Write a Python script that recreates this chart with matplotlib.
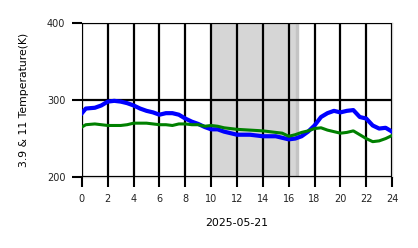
import matplotlib
matplotlib.use('Agg')
import matplotlib.pyplot as plt

# Horas del día (UTC) y temperaturas de brillo
horas = [0, 0.3, 1, 1.5, 2, 2.5, 3, 3.5, 4, 4.5, 5, 5.5, 6, 6.5, 7, 7.5, 8, 8.5,
         9, 9.5, 10, 10.5, 11, 11.5, 12, 13, 14, 15, 15.5, 16, 16.5, 17, 17.5,
         18, 18.5, 19, 19.5, 20, 20.5, 21, 21.5, 22, 22.5, 23, 23.5, 24]
t_39 = [283, 289, 290, 293, 298, 299, 298, 296, 293, 289, 286, 284, 281, 283,
        283, 281, 276, 272, 269, 265, 262, 262, 259, 257, 255, 255, 253, 253,
        251, 249, 250, 253, 259, 267, 278, 283, 286, 284, 286, 287, 278, 276,
        267, 263, 264, 259]
t_11 = [265, 268, 269, 268, 267, 267, 267, 268, 270, 270, 270, 269, 268, 268,
        267, 269, 269, 268, 268, 266, 267, 266, 264, 263, 262, 261, 260, 258,
        257, 253, 255, 258, 260, 263, 264, 261, 259, 257, 258, 260, 255, 250,
        246, 247, 250, 254]

# Intervalo sombreado
sombra_ini, sombra_fin = 10, 16.6

fig = plt.figure(figsize=(4.18, 2.48), dpi=100)
ax = fig.add_axes([0.196, 0.286, 0.742, 0.621])

ax.axvspan(sombra_ini, sombra_fin, color='#d6d6d6', zorder=0)
ax.axvspan(sombra_fin, sombra_fin + 0.15, color='#c4c4c4', zorder=0)

ax.plot(horas, t_39, color='blue', lw=3, zorder=3)
ax.plot(horas, t_11, color='green', lw=2.2, zorder=3)

ax.set_xlim(0, 24)
ax.set_ylim(200, 400)
ax.set_xticks(range(0, 25, 2))
ax.set_yticks([200, 300, 400])
ax.grid(True, color='black', lw=1.6)
ax.set_axisbelow(False)
for s in ax.spines.values():
    s.set_color('#cccccc')
    s.set_linewidth(1)
ax.tick_params(length=7, width=1.5, color='black', labelsize=7, pad=5,
               labelcolor='#222222')
ax.set_xlabel('2025-05-21', fontsize=7.8, labelpad=10)
ax.set_ylabel('3.9 & 11 Temperature(K)', fontsize=7.8, labelpad=13)

fig.savefig('out.png', dpi=100)
